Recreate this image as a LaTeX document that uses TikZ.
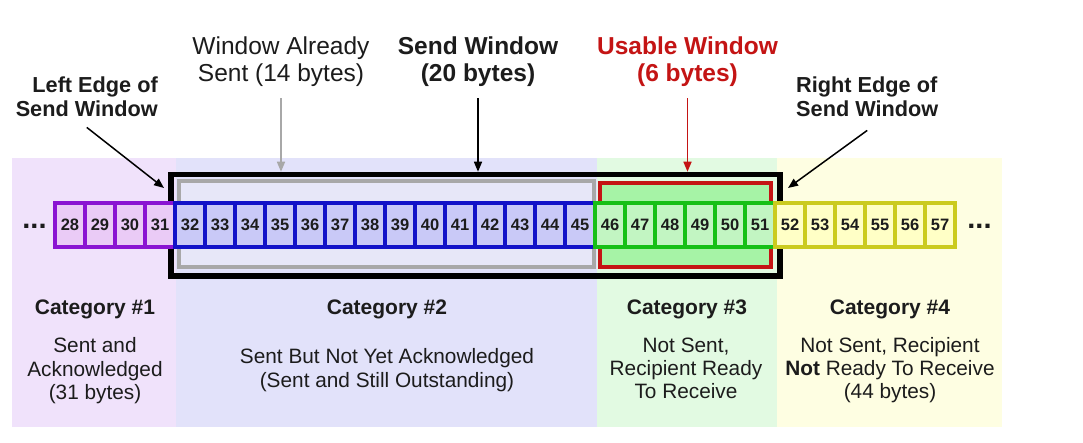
\documentclass[tikz,border=0pt]{standalone}
\usepackage{fontspec}
\setmainfont{Liberation Sans}
\usetikzlibrary{arrows.meta}
\definecolor{bandA}{HTML}{F0E2FB}
\definecolor{bandB}{HTML}{E2E2FA}
\definecolor{bandC}{HTML}{E2FAE2}
\definecolor{bandD}{HTML}{FEFEE2}
\definecolor{purB}{HTML}{8A14D2}
\definecolor{purF}{HTML}{EACBF6}
\definecolor{bluB}{HTML}{1212C8}
\definecolor{bluF}{HTML}{C9C9F7}
\definecolor{grnB}{HTML}{16C016}
\definecolor{grnF}{HTML}{C2F5C2}
\definecolor{yelB}{HTML}{CBCB1E}
\definecolor{yelF}{HTML}{FFFFC6}
\definecolor{usableF}{HTML}{A6F3A6}
\definecolor{redB}{HTML}{C41414}
\definecolor{greyB}{HTML}{A8A8A8}
\definecolor{innerF}{HTML}{E7E7F8}
\definecolor{ink}{HTML}{1C1C1C}
\begin{document}
\begin{tikzpicture}[x=1pt,y=-1pt,
  cell/.style={draw, line width=3.2pt, minimum width=30pt, minimum height=44pt,
    inner sep=0pt, text=ink, font=\fontsize{16.5}{19}\selectfont\bfseries},
  frame/.style={draw, inner sep=0pt},
  lab/.style={anchor=base, inner sep=0pt, text=ink},
  big/.style={font=\fontsize{24.5}{29}\selectfont},
  bigb/.style={font=\fontsize{24.5}{29}\selectfont\bfseries},
  edge/.style={font=\fontsize{21.7}{26}\selectfont\bfseries},
  cattitle/.style={font=\fontsize{21}{25}\selectfont\bfseries},
  body/.style={font=\fontsize{20.8}{25}\selectfont},
  arr/.style={line width=1.5pt, -{Triangle[length=10pt,width=8pt]}}]
\useasboundingbox[fill=white] (0,0) rectangle (1083,443);
% category bands
\fill[bandA] (12,158) rectangle (176,427);
\fill[bandB] (176,158) rectangle (597,427);
\fill[bandC] (597,158) rectangle (777,427);
\fill[bandD] (777,158) rectangle (1002,427);
% window frames
\node[frame, draw=black, line width=5.5pt, minimum width=609pt, minimum height=101.5pt] (sendwin) at (475.5,225.25) {};
\node[frame, draw=greyB, fill=innerF, line width=3.5pt, minimum width=415pt, minimum height=86pt] (already) at (386.5,224) {};
\node[frame, draw=redB, fill=usableF, line width=4pt, minimum width=171pt, minimum height=84pt] (usable) at (685.5,225) {};
% byte cells
\foreach \n in {28,...,31} \node[cell, draw=purB, fill=purF] (c\n) at ({70+(\n-28)*30},225) {\n};
\foreach \n in {32,...,45} \node[cell, draw=bluB, fill=bluF] (c\n) at ({70+(\n-28)*30},225) {\n};
\foreach \n in {46,...,51} \node[cell, draw=grnB, fill=grnF] (c\n) at ({70+(\n-28)*30},225) {\n};
\foreach \n in {52,...,57} \node[cell, draw=yelB, fill=yelF] (c\n) at ({70+(\n-28)*30},225) {\n};
\node[lab, font=\fontsize{29}{32}\selectfont\bfseries] (dotsL) at (34.5,228.5) {...};
\node[lab, font=\fontsize{29}{32}\selectfont\bfseries] (dotsR) at (979.5,228.5) {...};
% top labels
\node[lab, big] (wa1) at (281,55) {Window Already};
\node[lab, big] (wa2) at (281,82) {Sent (14 bytes)};
\node[lab, bigb] (sw1) at (478,55) {Send Window};
\node[lab, bigb] (sw2) at (478,82) {(20 bytes)};
\node[lab, bigb, text=redB] (uw1) at (687.5,55) {Usable Window};
\node[lab, bigb, text=redB] (uw2) at (687.5,82) {(6 bytes)};
\node[lab, edge, anchor=base east] (le1) at (158,93) {Left Edge of};
\node[lab, edge, anchor=base east] (le2) at (158,117) {Send Window};
\node[lab, edge, anchor=base west] (re1) at (796,93) {Right Edge of};
\node[lab, edge, anchor=base west] (re2) at (796,117) {Send Window};
\coordinate (leTip) at (164,188);
\coordinate (reTip) at (788,188);
% arrows
\draw[arr, draw=greyB, fill=greyB] ([yshift=-11pt]wa2.south) -- (wa2.south |- sendwin.north);
\draw[arr, draw=black] ([yshift=-11pt]sw2.south) -- (sw2.south |- sendwin.north);
\draw[arr, draw=redB, fill=redB] ([yshift=-11pt]uw2.south) -- (uw2.south |- sendwin.north);
\draw[arr] ([yshift=-10pt]le2.south) -- (leTip);
\draw[arr] ([yshift=-13pt]re2.south) -- (reTip);
% category texts
\node[lab, cattitle] (cat1) at (95,315) {Category \#1};
\node[lab, cattitle] (cat2) at (387,315) {Category \#2};
\node[lab, cattitle] (cat3) at (687,315) {Category \#3};
\node[lab, cattitle] (cat4) at (890,315) {Category \#4};
\node[lab, body] (d1a) at (95,352) {Sent and};
\node[lab, body] (d1b) at (95,376) {Acknowledged};
\node[lab, body] (d1c) at (95,399) {(31 bytes)};
\node[lab, body] (d2a) at (387,363) {Sent But Not Yet Acknowledged};
\node[lab, body] (d2b) at (387,387) {(Sent and Still Outstanding)};
\node[lab, body] (d3a) at (686,352) {Not Sent,};
\node[lab, body] (d3b) at (686,375) {Recipient Ready};
\node[lab, body] (d3c) at (686,398) {To Receive};
\node[lab, body] (d4a) at (890,352) {Not Sent, Recipient};
\node[lab, body] (d4b) at (890,375) {\textbf{Not} Ready To Receive};
\node[lab, body] (d4c) at (890,398) {(44 bytes)};
\end{tikzpicture}
\end{document}
